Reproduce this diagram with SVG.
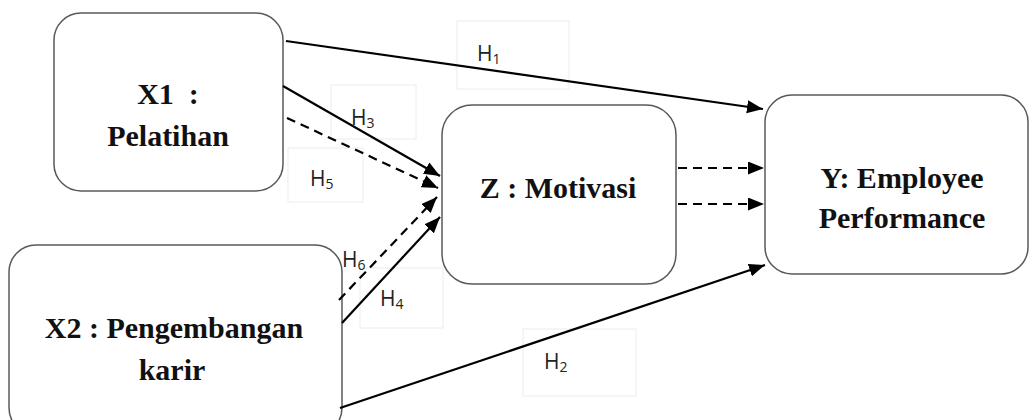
<svg xmlns="http://www.w3.org/2000/svg" width="1029" height="420" viewBox="0 0 1029 420">
  <style>
    .box { fill: #ffffff; stroke: #595959; stroke-width: 1.5; }
    .name { font-family: "Liberation Serif", "Times New Roman", serif; font-weight: bold; font-size: 30px; fill: #111; text-anchor: middle; white-space: pre; }
    .wire { stroke: #000; stroke-width: 2.2; fill: none; marker-end: url(#head); }
    .dash { stroke-dasharray: 9 6; }
    .tag { font-family: "Open Sans", "Noto Sans", sans-serif; font-size: 21px; fill: #222; }
    .sub { font-size: 14px; }
    .frame { fill: none; stroke: #ececec; stroke-width: 1; }
  </style>
  <defs>
    <marker id="head" markerUnits="userSpaceOnUse" markerWidth="17" markerHeight="14" refX="16" refY="6.5" orient="auto">
      <path d="M0,0 L16,6.5 L0,13 Z" fill="#000"/>
    </marker>
  </defs>
  <rect width="1029" height="420" fill="#ffffff"/>

  <!-- faint label frames -->
  <g id="label-frames">
    <rect class="frame" x="457" y="21" width="112" height="68"/>
    <rect class="frame" x="331" y="85" width="85" height="54"/>
    <rect class="frame" x="288" y="148" width="75" height="54"/>
    <rect class="frame" x="360" y="268" width="83" height="60"/>
    <rect class="frame" x="523" y="329" width="113" height="67"/>
  </g>

  <g id="node-x1">
    <rect class="box" x="54" y="13" width="229" height="178" rx="27"/>
    <text class="name" x="168" y="104">X1  :</text>
    <text class="name" x="168" y="146">Pelatihan</text>
  </g>

  <g id="node-x2">
    <rect class="box" x="9" y="245" width="333" height="190" rx="27"/>
    <text class="name" x="174" y="338">X2 : Pengembangan</text>
    <text class="name" x="172" y="380">karir</text>
  </g>

  <g id="node-z">
    <rect class="box" x="442" y="105" width="234" height="179" rx="30"/>
    <text class="name" x="558" y="198">Z : Motivasi</text>
  </g>

  <g id="node-y">
    <rect class="box" x="765" y="95" width="263" height="179" rx="27"/>
    <text class="name" x="902" y="188">Y: Employee</text>
    <text class="name" x="902" y="228">Performance</text>
  </g>

  <g id="connectors">
    <line class="wire" x1="286" y1="41" x2="763" y2="109"/>
    <line class="wire" x1="283" y1="86" x2="440" y2="176"/>
    <line class="wire dash" x1="287" y1="118" x2="438" y2="188"/>
    <line class="wire dash" x1="339" y1="300" x2="437" y2="197"/>
    <line class="wire" x1="342" y1="323" x2="440" y2="217"/>
    <line class="wire dash" x1="678" y1="168" x2="764" y2="168"/>
    <line class="wire dash" x1="678" y1="204" x2="764" y2="204"/>
    <line class="wire" x1="340" y1="408" x2="765" y2="265"/>
  </g>

  <g id="labels">
    <text class="tag" x="477" y="61">H<tspan class="sub" dy="3">1</tspan></text>
    <text class="tag" x="351" y="125">H<tspan class="sub" dy="3">3</tspan></text>
    <text class="tag" x="310" y="186">H<tspan class="sub" dy="3">5</tspan></text>
    <text class="tag" x="342" y="267">H<tspan class="sub" dy="3">6</tspan></text>
    <text class="tag" x="380" y="306">H<tspan class="sub" dy="3">4</tspan></text>
    <text class="tag" x="544" y="369">H<tspan class="sub" dy="3">2</tspan></text>
  </g>
</svg>
